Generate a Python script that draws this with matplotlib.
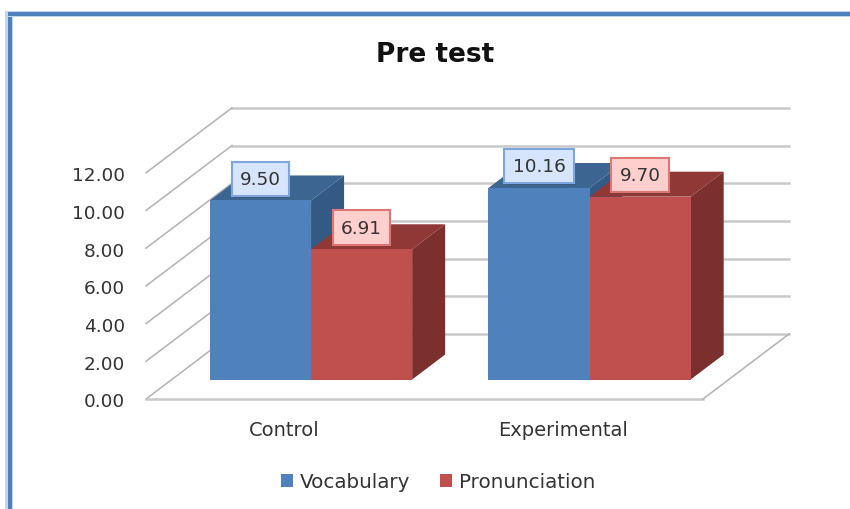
import matplotlib
matplotlib.use('Agg')
import matplotlib.pyplot as plt
import matplotlib.patheffects as pe
from matplotlib.patches import Patch, Polygon, Rectangle

title = 'Pre test'
categories = ['Control', 'Experimental']
series_names = ['Vocabulary', 'Pronunciation']
vocabulary = [9.50, 10.16]
pronunciation = [6.91, 9.70]
y_ticks = [0, 2, 4, 6, 8, 10, 12]

# pixels per unit, used to line the axes up with the figure
PX_X = 278.5
PX_Y = 18.85
LEFT_PX = 146
BOTTOM_PX = 110

# oblique depth of the fake 3d box, in data units
DEPTH_X = 86 / PX_X
DEPTH_Y = 65 / PX_Y
BAR_FRONT = 0.30
BAR_BACK = 0.684
BAR_WIDTH = 0.363

BLUES = {'front': '#4f81bd', 'top': '#3c6591', 'side': '#335a84',
         'box': '#d6e5fb', 'edge': '#7ea6dc'}
REDS = {'front': '#c0504d', 'top': '#8f3836', 'side': '#7b302e',
        'box': '#ffcfce', 'edge': '#dd7673'}
TEXT = '#333333'


def project(x, y, depth):
    """Move a point from the front plane to the given depth"""
    return x + depth * DEPTH_X, y + depth * DEPTH_Y


def draw_bar(ax, x0, value, colors):
    """Draw the side, top and front faces of one bar"""
    x1 = x0 + BAR_WIDTH
    side = [project(x1, 0, BAR_FRONT), project(x1, 0, BAR_BACK),
            project(x1, value, BAR_BACK), project(x1, value, BAR_FRONT)]
    top = [project(x0, value, BAR_FRONT), project(x1, value, BAR_FRONT),
           project(x1, value, BAR_BACK), project(x0, value, BAR_BACK)]
    front = [project(x0, 0, BAR_FRONT), project(x1, 0, BAR_FRONT),
             project(x1, value, BAR_FRONT), project(x0, value, BAR_FRONT)]
    ax.add_patch(Polygon(side, closed=True, fc=colors['side'], ec='none', zorder=3))
    ax.add_patch(Polygon(top, closed=True, fc=colors['top'], ec='none', zorder=3))
    ax.add_patch(Polygon(front, closed=True, fc=colors['front'], ec='none', zorder=3))


def draw_label(ax, x, value, colors):
    label = ax.annotate(f'{value:.2f}', project(x, value, BAR_FRONT),
                        xytext=(0, 15.6), textcoords='offset points',
                        ha='center', va='center', fontsize=13.3, color=TEXT, zorder=6,
                        bbox=dict(boxstyle='square,pad=0.44', fc=colors['box'],
                                  ec=colors['edge'], lw=1.5))
    label.get_bbox_patch().set_path_effects([
        pe.SimplePatchShadow(offset=(0.8, -1.2), alpha=0.35), pe.Normal()])


fig = plt.figure(figsize=(8.5, 5.1), dpi=100)
ax = fig.add_axes([0, 0, 1, 1])
x_start = -0.5 - LEFT_PX / PX_X
y_start = -BOTTOM_PX / PX_Y
ax.set_xlim(x_start, x_start + 850 / PX_X)
ax.set_ylim(y_start, y_start + 510 / PX_Y)
ax.axis('off')

# blue frame of the chart, top and left only
for x, y, w, h, color in [(5, 0, 8, 497, '#c3d5ea'), (8, 0, 4, 497, '#4f81bd'),
                          (5, 492, 845, 6, '#c3d5ea'), (8, 493, 842, 4, '#4f81bd')]:
    fig.add_artist(Rectangle((x / 850, y / 510), w / 850, h / 510,
                             transform=fig.transFigure, fc=color, ec='none'))

# back wall, left wall and floor
x_left, x_right = -0.5, 1.5
for tick in y_ticks:
    bx0, by = project(x_left, tick, 1)
    bx1, _ = project(x_right, tick, 1)
    ax.plot([bx0, bx1], [by, by], color='#c9c9c9', lw=1.8, zorder=1)
    ax.plot([x_left, bx0], [tick, by], color='#b2b2b2', lw=1.1, zorder=1)
    ax.text(x_left - 21 / PX_X, tick - 2.5 / PX_Y, f'{tick:.2f}', ha='right', va='center',
            fontsize=13.3, color=TEXT)
bx, by = project(x_right, 0, 1)
ax.plot([x_left, x_right], [0, 0], color='#c9c9c9', lw=1.8, zorder=1)
ax.plot([x_right, bx], [0, by], color='#b2b2b2', lw=1.1, zorder=1)

for i, category in enumerate(categories):
    draw_bar(ax, i - BAR_WIDTH, vocabulary[i], BLUES)
    draw_bar(ax, i, pronunciation[i], REDS)
    draw_label(ax, i - BAR_WIDTH / 2, vocabulary[i], BLUES)
    draw_label(ax, i + BAR_WIDTH / 2, pronunciation[i], REDS)
    ax.text(i - 1 / PX_X, -31 / PX_Y, category, ha='center', va='center',
            fontsize=14, color=TEXT)

ax.text(0.512, 0.893, title, transform=ax.transAxes, ha='center', va='center',
        fontsize=19, fontweight='bold', color='#111111')

handles = [Patch(fc=BLUES['front'], label=series_names[0]),
           Patch(fc=REDS['front'], label=series_names[1])]
ax.legend(handles=handles, loc='center', bbox_to_anchor=(0.516, 0.053), ncol=2,
          frameon=False, fontsize=14.3, labelcolor=TEXT, handlelength=0.6,
          handleheight=0.7, handletextpad=0.35, columnspacing=1.5)

fig.savefig('out.png', dpi=100)
